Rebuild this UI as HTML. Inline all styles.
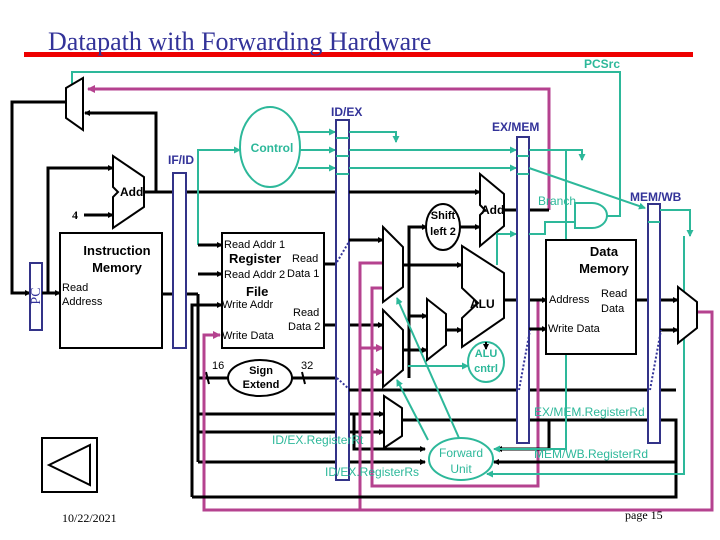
<!DOCTYPE html>
<html><head><meta charset="utf-8"><style>
html,body{margin:0;padding:0;background:#fff;}
svg{display:block;}
text{font-family:"Liberation Sans",sans-serif;}
.b{fill:none;stroke:#000;stroke-width:3}
.t{fill:none;stroke:#2db89a;stroke-width:2}
.m{fill:none;stroke:#b5428f;stroke-width:3}
.bar{fill:#fff;stroke:#333388;stroke-width:2}
.sh{fill:#fff;stroke:#000;stroke-width:2}
.tl{fill:#2db89a;font-weight:bold;font-size:12px}
.bl{fill:#333399;font-weight:bold;font-size:12px}
</style></head><body>
<svg width="720" height="540" viewBox="0 0 720 540" xmlns="http://www.w3.org/2000/svg">
<defs>
<marker id="ab" markerWidth="6" markerHeight="6" refX="5" refY="3" orient="auto" markerUnits="userSpaceOnUse"><path d="M0,0L6,3L0,6z" fill="#000"/></marker>
<marker id="at" markerWidth="7" markerHeight="7" refX="6" refY="3.5" orient="auto" markerUnits="userSpaceOnUse"><path d="M0,0L7,3.5L0,7z" fill="#2db89a"/></marker>
<marker id="am" markerWidth="8" markerHeight="8" refX="7" refY="4" orient="auto" markerUnits="userSpaceOnUse"><path d="M0,0L8,4L0,8z" fill="#b5428f"/></marker>
</defs>
<rect x="24" y="52" width="669" height="5" fill="#e00"/>
<text x="48" y="50" style="font-family:'Liberation Serif',serif;font-size:26px;fill:#333399">Datapath with Forwarding Hardware</text>
<text x="584" y="68" class="tl">PCSrc</text>
<!-- PCSrc teal loop -->
<polyline class="t" points="72,84 72,72 620,72 620,216 607,216"/>
<!-- magenta branch target -->
<polyline class="m" points="549,210 549,89 88,89" marker-end="url(#am)"/>
<!-- PC mux -->
<polygon class="sh" points="66,88 83,78 83,130 66,118"/>
<polyline class="b" points="66,102 12,102 12,293 30,293" marker-end="url(#ab)"/>
<rect x="30" y="263" width="12" height="67" class="bar"/>
<text x="40" y="296" transform="rotate(-90 40 296)" style="font-family:'Liberation Serif',serif;font-size:14px;fill:#333399" text-anchor="middle">PC</text>
<polyline class="b" points="42,293 60,293" marker-end="url(#ab)"/>
<polyline class="b" points="48,293 48,168 113,168" marker-end="url(#ab)"/>
<!-- fetch adder -->
<polygon class="sh" points="113,156 144,177 144,207 113,228 113,197 118,192 113,187"/>
<text x="120" y="196" style="font-weight:bold;font-size:12px">Add</text>
<text x="72" y="219" style="font-family:'Liberation Serif',serif;font-weight:bold;font-size:12px">4</text>
<polyline class="b" points="84,215 113,215" marker-end="url(#ab)"/>
<polyline class="b" points="144,192 480,192" marker-end="url(#ab)"/>
<polyline class="b" points="156,192 156,113 85,113" marker-end="url(#ab)"/>
<!-- instruction memory -->
<rect x="60" y="233" width="102" height="115" class="sh"/>
<text x="117" y="255" text-anchor="middle" style="font-weight:bold;font-size:13px">Instruction</text>
<text x="117" y="272" text-anchor="middle" style="font-weight:bold;font-size:13px">Memory</text>
<text x="62" y="291" style="font-size:11px">Read</text>
<text x="62" y="305" style="font-size:11px">Address</text>
<polyline class="b" points="162,294 198,294"/>
<!-- IF/ID -->
<text x="168" y="164" class="bl">IF/ID</text>
<rect x="173" y="173" width="13" height="175" class="bar"/>
<!-- control -->
<polyline class="t" points="198,245 198,150 240,150" marker-end="url(#at)"/>
<ellipse cx="270" cy="147" rx="30" ry="40" fill="#fff" stroke="#2db89a" stroke-width="2"/>
<text x="272" y="152" text-anchor="middle" class="tl">Control</text>
<polyline class="t" points="298,132 335,132" marker-end="url(#at)"/>
<polyline class="t" points="300,150 335,150" marker-end="url(#at)"/>
<polyline class="t" points="298,168 335,168" marker-end="url(#at)"/>
<!-- instr distribution -->
<polyline class="b" points="198,294 198,462"/>
<polyline class="b" points="198,245 222,245" marker-end="url(#ab)"/>
<polyline class="b" points="198,274 222,274" marker-end="url(#ab)"/>
<polyline class="b" points="192,497 192,305 222,305" marker-end="url(#ab)"/>
<polyline class="b" points="198,378 336,378"/>
<polyline class="b" points="198,414 384,414" marker-end="url(#ab)"/>
<polyline class="b" points="198,432 384,432" marker-end="url(#ab)"/>
<polyline class="b" points="198,462 425,462" marker-end="url(#ab)"/>
<polyline class="b" points="354,414 354,449 425,449" marker-end="url(#ab)"/>
<!-- register file -->
<rect x="222" y="233" width="102" height="115" class="sh"/>
<text x="224" y="248" style="font-size:11px">Read Addr 1</text>
<text x="229" y="263" style="font-weight:bold;font-size:13px">Register</text>
<text x="292" y="262" style="font-size:11px">Read</text>
<text x="224" y="278" style="font-size:11px">Read Addr 2</text>
<text x="287" y="277" style="font-size:11px">Data 1</text>
<text x="246" y="296" style="font-weight:bold;font-size:13px">File</text>
<text x="222" y="308" style="font-size:11px">Write Addr</text>
<text x="293" y="316" style="font-size:11px">Read</text>
<text x="288" y="330" style="font-size:11px">Data 2</text>
<text x="222" y="339" style="font-size:11px">Write Data</text>
<polyline class="b" points="324,264 336,264"/>
<polyline class="b" points="324,325 383,325" marker-end="url(#ab)"/>
<!-- sign extend -->
<ellipse cx="260" cy="378" rx="32" ry="18" class="sh"/>
<text x="261" y="374" text-anchor="middle" style="font-weight:bold;font-size:11px">Sign</text>
<text x="261" y="388" text-anchor="middle" style="font-weight:bold;font-size:11px">Extend</text>
<text x="212" y="369" style="font-size:11px">16</text>
<text x="301" y="369" style="font-size:11px">32</text>
<line x1="206" y1="372" x2="209" y2="384" stroke="#000" stroke-width="2"/>
<line x1="302" y1="372" x2="305" y2="384" stroke="#000" stroke-width="2"/>
<!-- ID/EX -->
<text x="331" y="116" class="bl">ID/EX</text>
<rect x="336" y="120" width="13" height="360" class="bar"/>
<line x1="336" y1="138" x2="349" y2="138" stroke="#2db89a" stroke-width="2"/>
<line x1="336" y1="156" x2="349" y2="156" stroke="#2db89a" stroke-width="2"/>
<line x1="336" y1="174" x2="349" y2="174" stroke="#2db89a" stroke-width="2"/>
<polyline class="t" points="349,132 396,132 396,142" marker-end="url(#at)"/>
<polyline class="t" points="349,150 516,150" marker-end="url(#at)"/>
<polyline class="t" points="349,168 516,168" marker-end="url(#at)"/>
<line x1="337" y1="262" x2="350" y2="240" stroke="#333399" stroke-width="2" stroke-dasharray="2,2"/>
<line x1="337" y1="378" x2="350" y2="390" stroke="#333399" stroke-width="2" stroke-dasharray="2,2"/>
<polyline class="b" points="349,240 383,240" marker-end="url(#ab)"/>
<polyline class="b" points="349,192 480,192"/>
<polyline class="b" points="349,390 676,390"/>
<!-- magenta forward paths -->
<polyline class="m" points="383,263 360,263 360,510 204,510 204,335 220,335" marker-end="url(#am)"/>
<polyline class="m" points="360,348 383,348" marker-end="url(#am)"/>
<polyline class="m" points="383,288 372,288 372,486 538,486 538,300"/>
<polyline class="m" points="372,372 383,372" marker-end="url(#am)"/>
<polyline class="m" points="360,510 712,510 712,312 697,312"/>
<!-- muxes -->
<polygon class="sh" points="383,227 403,247 403,287 383,302"/>
<polygon class="sh" points="383,310 403,330 403,370 383,387"/>
<polygon class="sh" points="427,299 446,314 446,345 427,360"/>
<polygon class="sh" points="384,396 402,408 402,436 384,448"/>
<polyline class="b" points="403,265 462,265" marker-end="url(#ab)"/>
<polyline class="b" points="403,350 427,350" marker-end="url(#ab)"/>
<polyline class="b" points="409,378 409,227 427,227" marker-end="url(#ab)"/>
<polyline class="b" points="409,316 427,316" marker-end="url(#ab)"/>
<polyline class="b" points="446,330 462,330" marker-end="url(#ab)"/>
<polyline class="b" points="402,420 676,420 676,497 192,497"/>
<polyline class="b" points="549,420 549,449 497,449" marker-end="url(#ab)"/>
<polyline class="b" points="676,462 494,462" marker-end="url(#ab)"/>
<!-- shift left 2 -->
<ellipse cx="443" cy="227" rx="17" ry="23" class="sh"/>
<text x="443" y="219" text-anchor="middle" style="font-weight:bold;font-size:11px">Shift</text>
<text x="443" y="235" text-anchor="middle" style="font-weight:bold;font-size:11px">left 2</text>
<polyline class="b" points="460,227 480,227" marker-end="url(#ab)"/>
<!-- branch adder -->
<polygon class="sh" points="480,174 504,194 504,226 480,246 480,215 485,210 480,205"/>
<text x="481" y="214" style="font-weight:bold;font-size:12px">Add</text>
<polyline class="b" points="504,210 549,210"/>
<!-- ALU -->
<polygon class="sh" points="462,246 504,273 504,318 462,347 462,318 478,303 462,288"/>
<text x="470" y="308" style="font-weight:bold;font-size:12px">ALU</text>
<polyline class="t" points="497,265 497,234 516,234" marker-end="url(#at)"/>
<polyline class="b" points="504,300 547,300" marker-end="url(#ab)"/>
<ellipse cx="486" cy="362" rx="18" ry="20" fill="#fff" stroke="#2db89a" stroke-width="2"/>
<text x="486" y="357" text-anchor="middle" class="tl" style="font-size:11px">ALU</text>
<text x="486" y="372" text-anchor="middle" class="tl" style="font-size:11px">cntrl</text>
<polyline class="t" points="408,366 468,366" marker-end="url(#at)"/>
<polyline class="b" points="486,342 486,349" style="stroke-width:2" marker-end="url(#ab)"/>
<!-- EX/MEM -->
<text x="492" y="131" class="bl">EX/MEM</text>
<rect x="517" y="137" width="12" height="306" class="bar"/>
<line x1="517" y1="156" x2="529" y2="156" stroke="#2db89a" stroke-width="2"/>
<line x1="517" y1="174" x2="529" y2="174" stroke="#2db89a" stroke-width="2"/>
<polyline class="t" points="529,150 582,150 582,160" marker-end="url(#at)"/>
<polyline class="t" points="566,150 566,449 494,449" marker-end="url(#at)"/>
<polyline class="t" points="529,168 645,208" marker-end="url(#at)"/>
<polyline class="t" points="529,234 545,234 545,222 575,222"/>
<polyline class="b" points="529,329 547,329" marker-end="url(#ab)"/>
<line x1="519" y1="390" x2="530" y2="330" stroke="#333399" stroke-width="2" stroke-dasharray="2,2"/>
<!-- branch AND -->
<text x="538" y="205" style="fill:#2db89a;font-size:12px">Branch</text>
<path d="M575,203 L592,203 A15,12.5 0 0 1 592,228 L575,228 Z" fill="#fff" stroke="#2db89a" stroke-width="2"/>
<!-- data memory -->
<rect x="546" y="240" width="90" height="114" class="sh"/>
<text x="604" y="256" text-anchor="middle" style="font-weight:bold;font-size:13px">Data</text>
<text x="604" y="273" text-anchor="middle" style="font-weight:bold;font-size:13px">Memory</text>
<text x="549" y="303" style="font-size:11px">Address</text>
<text x="601" y="297" style="font-size:11px">Read</text>
<text x="601" y="312" style="font-size:11px">Data</text>
<text x="548" y="332" style="font-size:11px">Write Data</text>
<polyline class="b" points="636,300 678,300" marker-end="url(#ab)"/>
<!-- MEM/WB -->
<text x="630" y="201" class="bl">MEM/WB</text>
<rect x="648" y="204" width="12" height="239" class="bar"/>
<line x1="648" y1="222" x2="660" y2="222" stroke="#2db89a" stroke-width="2"/>
<polyline class="t" points="660,210 690,210 690,236" marker-end="url(#at)"/>
<polyline class="t" points="684,236 684,474 487,474" marker-end="url(#at)"/>
<polyline class="b" points="660,330 678,330" marker-end="url(#ab)"/>
<line x1="650" y1="390" x2="661" y2="330" stroke="#333399" stroke-width="2" stroke-dasharray="2,2"/>
<polygon class="sh" points="678,287 697,302 697,328 678,343"/>
<!-- forward unit -->
<polyline class="t" points="459,438 397,298" marker-end="url(#at)"/>
<polyline class="t" points="428,440 397,380" marker-end="url(#at)"/>
<ellipse cx="461" cy="459" rx="32" ry="21" fill="#fff" stroke="#2db89a" stroke-width="2"/>
<text x="461" y="457" text-anchor="middle" style="fill:#2db89a;font-size:12px">Forward</text>
<text x="461" y="473" text-anchor="middle" style="fill:#2db89a;font-size:12px">Unit</text>
<text x="534" y="416" class="tl" style="font-weight:normal">EX/MEM.RegisterRd</text>
<text x="272" y="444" class="tl" style="font-weight:normal">ID/EX.RegisterRt</text>
<text x="325" y="476" class="tl" style="font-weight:normal">ID/EX.RegisterRs</text>
<text x="534" y="458" class="tl" style="font-weight:normal">MEM/WB.RegisterRd</text>
<!-- back button -->
<rect x="42" y="438" width="55" height="54" fill="#fff" stroke="#000" stroke-width="2"/>
<polygon points="49,465 90,445 90,485" fill="none" stroke="#000" stroke-width="2"/>
<text x="62" y="522" style="font-family:'Liberation Serif',serif;font-size:12px">10/22/2021</text>
<text x="625" y="519" style="font-family:'Liberation Serif',serif;font-size:12px">page 15</text>
</svg>
</body></html>
